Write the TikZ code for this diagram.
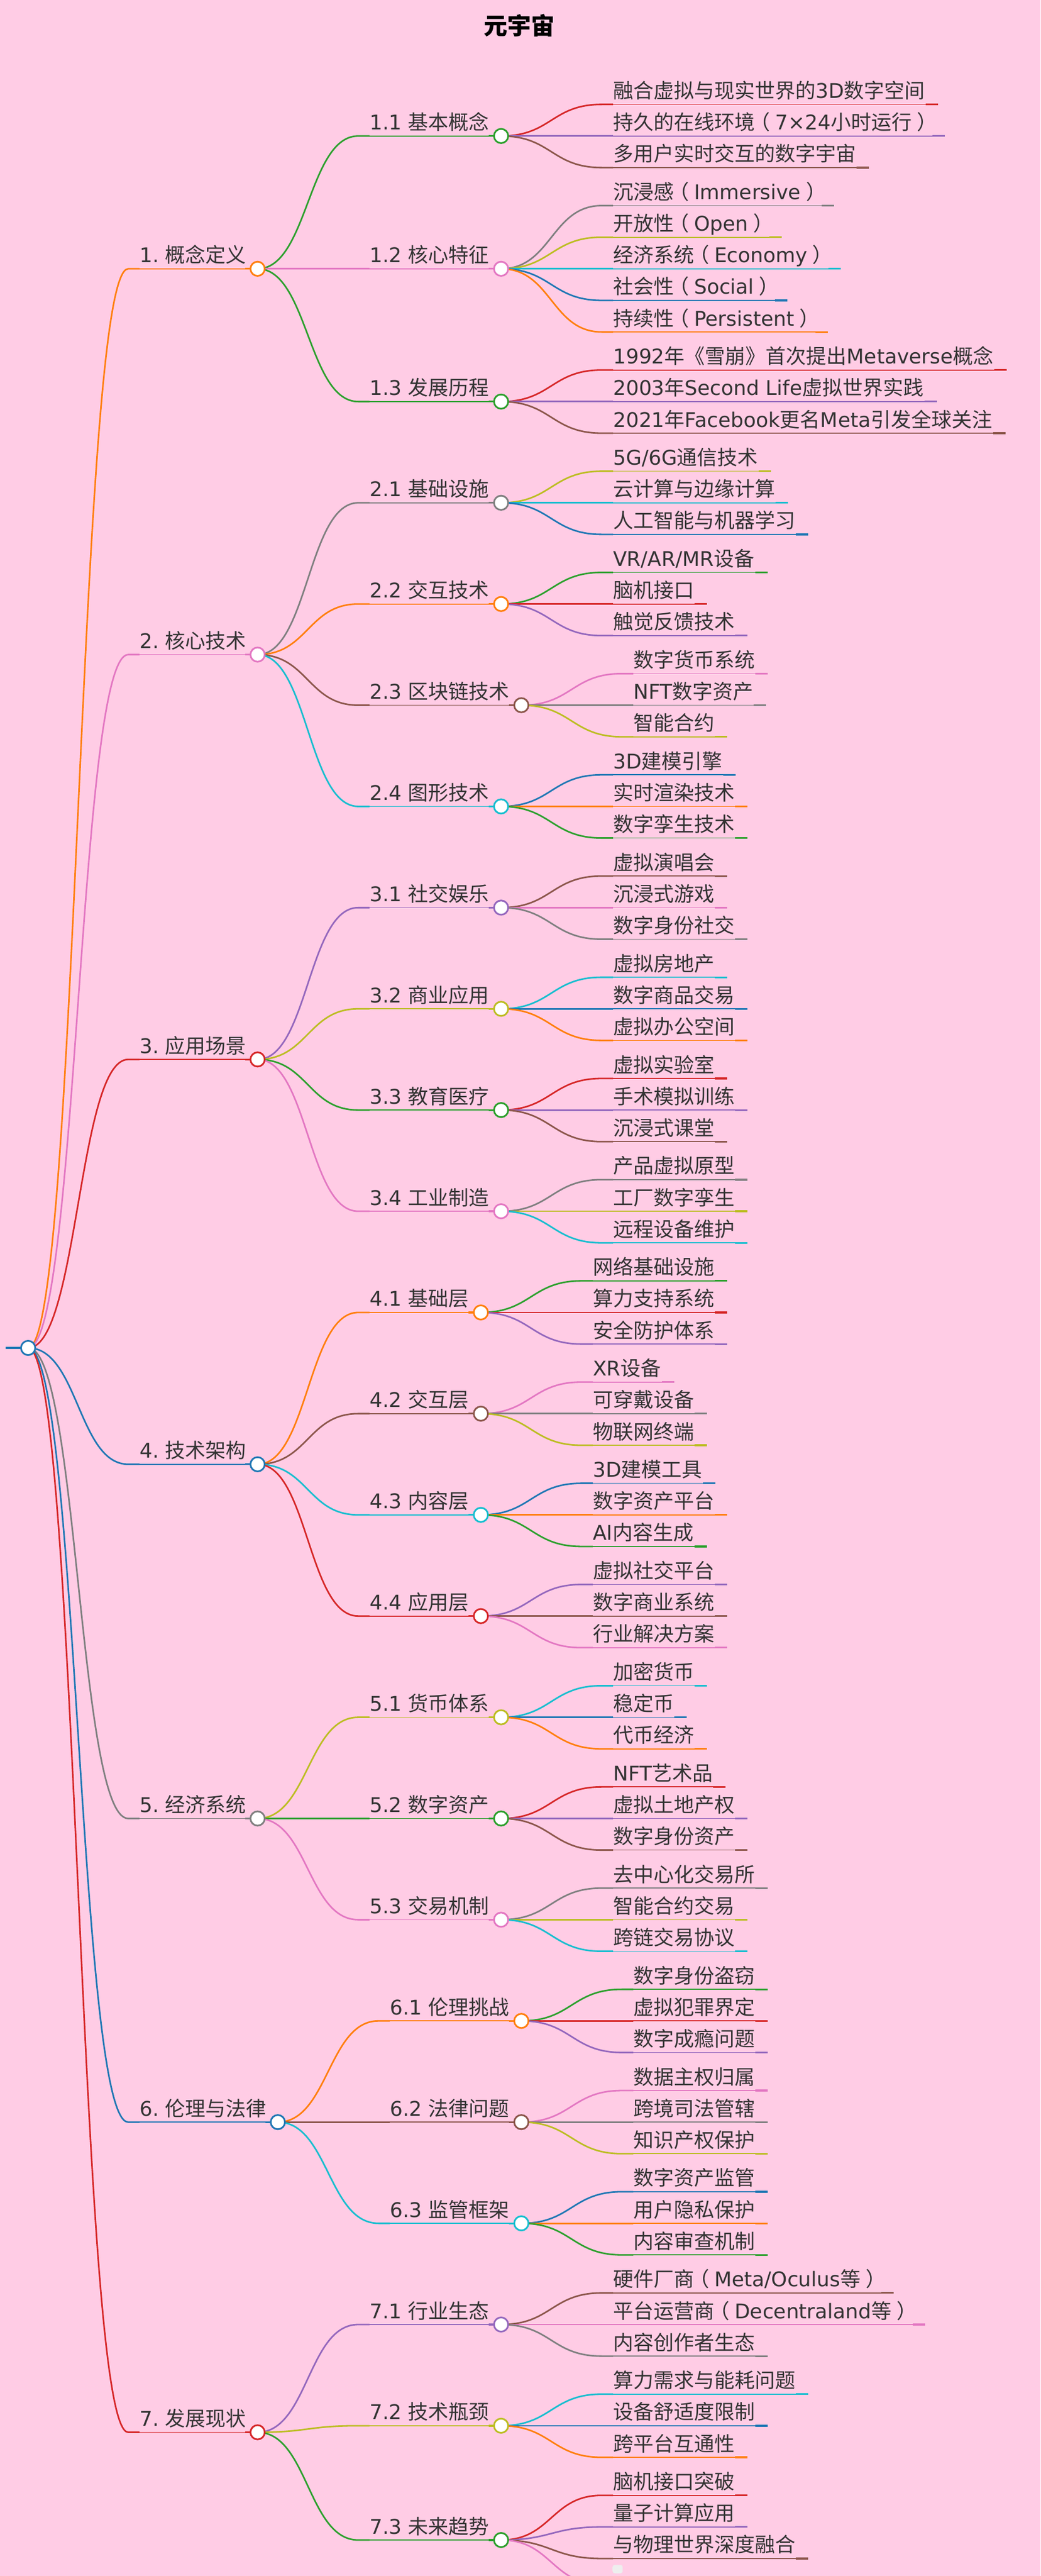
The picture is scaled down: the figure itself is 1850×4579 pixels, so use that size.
\documentclass[tikz,border=0pt]{standalone}
\usepackage{fontspec}
\setmainfont{DejaVu Sans}
\newfontfamily\latinfont{DejaVu Sans}
\newfontfamily\cjkfont{Noto Sans CJK SC}
\usetikzlibrary{calc}
\pgfdeclarelayer{fg}
\pgfsetlayers{main,fg}
\newXeTeXintercharclass\CJKcls
\makeatletter
\count@="3000
\loop\ifnum\count@<"A000 \XeTeXcharclass\count@=\CJKcls \advance\count@ 1 \repeat
\count@="FF00
\loop\ifnum\count@<"FF60 \XeTeXcharclass\count@=\CJKcls \advance\count@ 1 \repeat
\makeatother
\XeTeXinterchartoks 0 \CJKcls = {\cjkfont}
\XeTeXinterchartoks 4095 \CJKcls = {\cjkfont}
\XeTeXinterchartoks \CJKcls 0 = {\latinfont}
\XeTeXinterchartoks 4095 0 = {\latinfont}
\XeTeXinterchartokenstate=1
\frenchspacing
% full-width parentheses, ink centred in their em box
\newcommand\lp{\makebox[36pt][l]{\hspace*{-9pt}\cjkfont （}}
\newcommand\rp{\makebox[36pt][r]{\cjkfont ）\hspace*{-9pt}}}
\definecolor{c0}{HTML}{1F77B4}
\definecolor{c1}{HTML}{FF7F0E}
\definecolor{c2}{HTML}{2CA02C}
\definecolor{c3}{HTML}{D62728}
\definecolor{c4}{HTML}{9467BD}
\definecolor{c5}{HTML}{8C564B}
\definecolor{c6}{HTML}{E377C2}
\definecolor{c7}{HTML}{7F7F7F}
\definecolor{c8}{HTML}{BCBD22}
\definecolor{c9}{HTML}{17BECF}
\definecolor{bgpink}{HTML}{FFCCE5}
\definecolor{txtc}{HTML}{333333}
\definecolor{codegray}{HTML}{EEEEEE}
\newcommand\mmfont{\fontsize{36}{43}\selectfont}
\newcommand\titlefont{\cjkfont\bfseries\fontsize{42}{50}\selectfont}
\tikzset{
  lnk/.style={line width=2.8pt},
  uline/.style={line width=1.7pt},
  endseg/.style={line width=3.2pt},
  txt/.style={inner sep=0pt, anchor=base west, text=txtc, font=\mmfont},
  dot/.style={circle, fill=white, line width=3pt, minimum size=25.3pt, inner sep=0pt},
}
% #1 name, #2 parent, #3 colour, #4 x start, #5 y, #6 x circle, #7 text
\newcommand\Inner[7]{%
  \coordinate (#1-s) at (#4,#5);
  \coordinate (#1-p) at ({#4-20},#5);
  \begin{pgfonlayer}{fg}\node[dot,draw=#3] (#1) at (#6,#5) {};\end{pgfonlayer}
  \node[txt] (#1-t) at (#4,{#5-11}) {#7};
  \draw[uline,#3] (#1-s) -- (#1.center);
  \draw[endseg,#3] ([xshift=-22pt]#1.center) -- (#1.center);
  \draw[lnk,#3] let \p1=(#2.center), \p2=(#1-p) in (\p1) .. controls ({(\x1+\x2)/2},\y1) and ({(\x1+\x2)/2},\y2) .. (\p2) -- (#1-s);
}
% #1 name, #2 parent, #3 colour, #4 x start, #5 y, #6 text
\newcommand\Leaf[6]{%
  \coordinate (#1-s) at (#4,#5);
  \coordinate (#1-p) at ({#4-20},#5);
  \node[txt] (#1-t) at (#4,{#5-11}) {#6};
  \coordinate (#1) at ([xshift=23pt,yshift=-11pt]#1-t.base east);
  \draw[uline,#3] (#1-s) -- (#1);
  \draw[endseg,#3] ([xshift=-22pt]#1) -- (#1);
  \draw[lnk,#3] let \p1=(#2.center), \p2=(#1-p) in (\p1) .. controls ({(\x1+\x2)/2},\y1) and ({(\x1+\x2)/2},\y2) .. (\p2) -- (#1-s);
}
\begin{document}
\begin{tikzpicture}[x=1pt,y=-1pt]
\fill[bgpink] (0,0) rectangle (1850,4579);
\useasboundingbox (0,0) rectangle (1850,4579);
\clip (0,0) rectangle (1850,4579);
\node[anchor=base, font=\titlefont, text=black, inner sep=0pt] (title) at (923,62) {元宇宙};
% root
\coordinate (root-s) at (10,2396);
\begin{pgfonlayer}{fg}\node[dot,draw=c0] (root) at (50,2396) {};\end{pgfonlayer}
\draw[line width=3.3pt,c0] (root-s) -- (root.center);
% 1
\Inner{n1}{root}{c1}{248}{477.8}{458}{1. 概念定义}
\Inner{n1-1}{n1}{c2}{657}{241.75}{891}{1.1 基本概念}
\Leaf{n1-1-1}{n1-1}{c3}{1090}{185.6}{融合虚拟与现实世界的3D数字空间}
\Leaf{n1-1-2}{n1-1}{c4}{1090}{241.75}{持久的在线环境\lp 7×24小时运行\rp}
\Leaf{n1-1-3}{n1-1}{c5}{1090}{297.9}{多用户实时交互的数字宇宙}
\Inner{n1-2}{n1}{c6}{657}{477.8}{891}{1.2 核心特征}
\Leaf{n1-2-1}{n1-2}{c7}{1090}{365.5}{沉浸感\lp Immersive\rp}
\Leaf{n1-2-2}{n1-2}{c8}{1090}{421.65}{开放性\lp Open\rp}
\Leaf{n1-2-3}{n1-2}{c9}{1090}{477.8}{经济系统\lp Economy\rp}
\Leaf{n1-2-4}{n1-2}{c0}{1090}{533.95}{社会性\lp Social\rp}
\Leaf{n1-2-5}{n1-2}{c1}{1090}{590.1}{持续性\lp Persistent\rp}
\Inner{n1-3}{n1}{c2}{657}{713.85}{891}{1.3 发展历程}
\Leaf{n1-3-1}{n1-3}{c3}{1090}{657.7}{1992年《雪崩》首次提出Metaverse概念}
\Leaf{n1-3-2}{n1-3}{c4}{1090}{713.85}{2003年Second Life虚拟世界实践}
\Leaf{n1-3-3}{n1-3}{c5}{1090}{770.0}{2021年Facebook更名Meta引发全球关注}
% 2
\Inner{n2}{root}{c6}{248}{1163.6}{458}{2. 核心技术}
\Inner{n2-1}{n2}{c7}{657}{893.75}{891}{2.1 基础设施}
\Leaf{n2-1-1}{n2-1}{c8}{1090}{837.6}{5G/6G通信技术}
\Leaf{n2-1-2}{n2-1}{c9}{1090}{893.75}{云计算与边缘计算}
\Leaf{n2-1-3}{n2-1}{c0}{1090}{949.9}{人工智能与机器学习}
\Inner{n2-2}{n2}{c1}{657}{1073.65}{891}{2.2 交互技术}
\Leaf{n2-2-1}{n2-2}{c2}{1090}{1017.5}{VR/AR/MR设备}
\Leaf{n2-2-2}{n2-2}{c3}{1090}{1073.65}{脑机接口}
\Leaf{n2-2-3}{n2-2}{c4}{1090}{1129.8}{触觉反馈技术}
\Inner{n2-3}{n2}{c5}{657}{1253.55}{927}{2.3 区块链技术}
\Leaf{n2-3-1}{n2-3}{c6}{1126}{1197.4}{数字货币系统}
\Leaf{n2-3-2}{n2-3}{c7}{1126}{1253.55}{NFT数字资产}
\Leaf{n2-3-3}{n2-3}{c8}{1126}{1309.7}{智能合约}
\Inner{n2-4}{n2}{c9}{657}{1433.45}{891}{2.4 图形技术}
\Leaf{n2-4-1}{n2-4}{c0}{1090}{1377.3}{3D建模引擎}
\Leaf{n2-4-2}{n2-4}{c1}{1090}{1433.45}{实时渲染技术}
\Leaf{n2-4-3}{n2-4}{c2}{1090}{1489.6}{数字孪生技术}
% 3
\Inner{n3}{root}{c3}{248}{1883.2}{458}{3. 应用场景}
\Inner{n3-1}{n3}{c4}{657}{1613.35}{891}{3.1 社交娱乐}
\Leaf{n3-1-1}{n3-1}{c5}{1090}{1557.2}{虚拟演唱会}
\Leaf{n3-1-2}{n3-1}{c6}{1090}{1613.35}{沉浸式游戏}
\Leaf{n3-1-3}{n3-1}{c7}{1090}{1669.5}{数字身份社交}
\Inner{n3-2}{n3}{c8}{657}{1793.25}{891}{3.2 商业应用}
\Leaf{n3-2-1}{n3-2}{c9}{1090}{1737.1}{虚拟房地产}
\Leaf{n3-2-2}{n3-2}{c0}{1090}{1793.25}{数字商品交易}
\Leaf{n3-2-3}{n3-2}{c1}{1090}{1849.4}{虚拟办公空间}
\Inner{n3-3}{n3}{c2}{657}{1973.15}{891}{3.3 教育医疗}
\Leaf{n3-3-1}{n3-3}{c3}{1090}{1917.0}{虚拟实验室}
\Leaf{n3-3-2}{n3-3}{c4}{1090}{1973.15}{手术模拟训练}
\Leaf{n3-3-3}{n3-3}{c5}{1090}{2029.3}{沉浸式课堂}
\Inner{n3-4}{n3}{c6}{657}{2153.05}{891}{3.4 工业制造}
\Leaf{n3-4-1}{n3-4}{c7}{1090}{2096.9}{产品虚拟原型}
\Leaf{n3-4-2}{n3-4}{c8}{1090}{2153.05}{工厂数字孪生}
\Leaf{n3-4-3}{n3-4}{c9}{1090}{2209.2}{远程设备维护}
% 4
\Inner{n4}{root}{c0}{248}{2602.8}{458}{4. 技术架构}
\Inner{n4-1}{n4}{c1}{657}{2332.95}{855}{4.1 基础层}
\Leaf{n4-1-1}{n4-1}{c2}{1054}{2276.8}{网络基础设施}
\Leaf{n4-1-2}{n4-1}{c3}{1054}{2332.95}{算力支持系统}
\Leaf{n4-1-3}{n4-1}{c4}{1054}{2389.1}{安全防护体系}
\Inner{n4-2}{n4}{c5}{657}{2512.85}{855}{4.2 交互层}
\Leaf{n4-2-1}{n4-2}{c6}{1054}{2456.7}{XR设备}
\Leaf{n4-2-2}{n4-2}{c7}{1054}{2512.85}{可穿戴设备}
\Leaf{n4-2-3}{n4-2}{c8}{1054}{2569.0}{物联网终端}
\Inner{n4-3}{n4}{c9}{657}{2692.75}{855}{4.3 内容层}
\Leaf{n4-3-1}{n4-3}{c0}{1054}{2636.6}{3D建模工具}
\Leaf{n4-3-2}{n4-3}{c1}{1054}{2692.75}{数字资产平台}
\Leaf{n4-3-3}{n4-3}{c2}{1054}{2748.9}{AI内容生成}
\Inner{n4-4}{n4}{c3}{657}{2872.65}{855}{4.4 应用层}
\Leaf{n4-4-1}{n4-4}{c4}{1054}{2816.5}{虚拟社交平台}
\Leaf{n4-4-2}{n4-4}{c5}{1054}{2872.65}{数字商业系统}
\Leaf{n4-4-3}{n4-4}{c6}{1054}{2928.8}{行业解决方案}
% 5
\Inner{n5}{root}{c7}{248}{3232.45}{458}{5. 经济系统}
\Inner{n5-1}{n5}{c8}{657}{3052.55}{891}{5.1 货币体系}
\Leaf{n5-1-1}{n5-1}{c9}{1090}{2996.4}{加密货币}
\Leaf{n5-1-2}{n5-1}{c0}{1090}{3052.55}{稳定币}
\Leaf{n5-1-3}{n5-1}{c1}{1090}{3108.7}{代币经济}
\Inner{n5-2}{n5}{c2}{657}{3232.45}{891}{5.2 数字资产}
\Leaf{n5-2-1}{n5-2}{c3}{1090}{3176.3}{NFT艺术品}
\Leaf{n5-2-2}{n5-2}{c4}{1090}{3232.45}{虚拟土地产权}
\Leaf{n5-2-3}{n5-2}{c5}{1090}{3288.6}{数字身份资产}
\Inner{n5-3}{n5}{c6}{657}{3412.35}{891}{5.3 交易机制}
\Leaf{n5-3-1}{n5-3}{c7}{1090}{3356.2}{去中心化交易所}
\Leaf{n5-3-2}{n5-3}{c8}{1090}{3412.35}{智能合约交易}
\Leaf{n5-3-3}{n5-3}{c9}{1090}{3468.5}{跨链交易协议}
% 6
\Inner{n6}{root}{c0}{248}{3772.15}{494}{6. 伦理与法律}
\Inner{n6-1}{n6}{c1}{693}{3592.25}{927}{6.1 伦理挑战}
\Leaf{n6-1-1}{n6-1}{c2}{1126}{3536.1}{数字身份盗窃}
\Leaf{n6-1-2}{n6-1}{c3}{1126}{3592.25}{虚拟犯罪界定}
\Leaf{n6-1-3}{n6-1}{c4}{1126}{3648.4}{数字成瘾问题}
\Inner{n6-2}{n6}{c5}{693}{3772.15}{927}{6.2 法律问题}
\Leaf{n6-2-1}{n6-2}{c6}{1126}{3716.0}{数据主权归属}
\Leaf{n6-2-2}{n6-2}{c7}{1126}{3772.15}{跨境司法管辖}
\Leaf{n6-2-3}{n6-2}{c8}{1126}{3828.3}{知识产权保护}
\Inner{n6-3}{n6}{c9}{693}{3952.05}{927}{6.3 监管框架}
\Leaf{n6-3-1}{n6-3}{c0}{1126}{3895.9}{数字资产监管}
\Leaf{n6-3-2}{n6-3}{c1}{1126}{3952.05}{用户隐私保护}
\Leaf{n6-3-3}{n6-3}{c2}{1126}{4008.2}{内容审查机制}
% 7
\Inner{n7}{root}{c3}{248}{4323.5}{458}{7. 发展现状}
\Inner{n7-1}{n7}{c4}{657}{4131.95}{891}{7.1 行业生态}
\Leaf{n7-1-1}{n7-1}{c5}{1090}{4075.8}{硬件厂商\lp Meta/Oculus等\rp}
\Leaf{n7-1-2}{n7-1}{c6}{1090}{4131.95}{平台运营商\lp Decentraland等\rp}
\Leaf{n7-1-3}{n7-1}{c7}{1090}{4188.1}{内容创作者生态}
\Inner{n7-2}{n7}{c8}{657}{4311.85}{891}{7.2 技术瓶颈}
\Leaf{n7-2-1}{n7-2}{c9}{1090}{4255.7}{算力需求与能耗问题}
\Leaf{n7-2-2}{n7-2}{c0}{1090}{4311.85}{设备舒适度限制}
\Leaf{n7-2-3}{n7-2}{c1}{1090}{4368.0}{跨平台互通性}
\Inner{n7-3}{n7}{c2}{657}{4515}{891}{7.3 未来趋势}
\Leaf{n7-3-1}{n7-3}{c3}{1090}{4435.6}{脑机接口突破}
\Leaf{n7-3-2}{n7-3}{c4}{1090}{4491.75}{量子计算应用}
\Leaf{n7-3-3}{n7-3}{c5}{1090}{4547.9}{与物理世界深度融合}
% fourth child of 7.3, mostly below the page
\coordinate (n7-3-4-s) at (1090,4594);
\coordinate (n7-3-4-p) at (1070,4594);
\node[fill=codegray, rounded corners=4pt, minimum width=18pt, minimum height=15pt, inner sep=0pt, anchor=north west] (n7-3-4-t) at (1089,4559) {};
\draw[lnk,c6] let \p1=(n7-3.center), \p2=(n7-3-4-p) in (\p1) .. controls ({(\x1+\x2)/2},\y1) and ({(\x1+\x2)/2},\y2) .. (\p2) -- (n7-3-4-s);
\end{tikzpicture}
\end{document}
